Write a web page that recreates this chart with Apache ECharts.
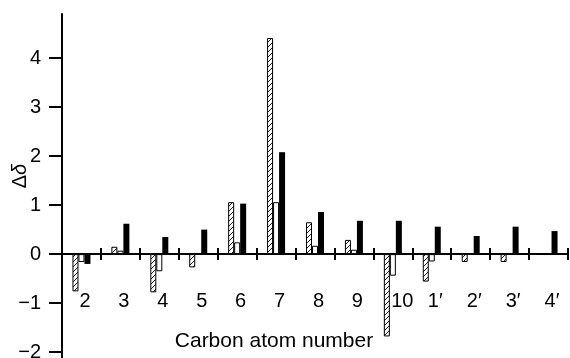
<!DOCTYPE html>
<html>
<head>
<meta charset="utf-8">
<script src="https://cdn.jsdelivr.net/npm/echarts@6/dist/echarts.min.js"></script>
<style>
  html, body {margin: 0; padding: 0; background: #fff;}
  #chart {width: 570px; height: 358px;}
</style>
</head>
<body>
<div id="chart"></div>
<script>
const atoms = ['2', '3', '4', '5', '6', '7', '8', '9', '10', '1\u2032', '2\u2032', '3\u2032', '4\u2032'];
const hatchedVals = [-0.76, 0.15, -0.78, -0.27, 1.06, 4.41, 0.65, 0.29, -1.68, -0.56, -0.16, -0.16, 0];
const whiteVals = [-0.16, 0.07, -0.35, 0, 0.24, 1.06, 0.17, 0.09, -0.44, -0.15, 0, 0, 0];
const blackVals = [-0.2, 0.62, 0.35, 0.5, 1.03, 2.08, 0.86, 0.68, 0.68, 0.56, 0.37, 0.56, 0.47];
const yTicks = [-2, -1, 0, 1, 2, 3, 4];

const font = 'Liberation Sans';
const yMin = -2.12, yMax = 4.9;
const gridTop = 14, gridBottom = 0, chartH = 358;
// lift the category axis from the grid bottom up to y = 0
const plotH = chartH - gridTop - gridBottom;
const zeroOffset = -plotH * (0 - yMin) / (yMax - yMin);

// small tile with a "/" stroke, repeated as the hatch fill
function hatchTile(size) {
  const c = document.createElement('canvas');
  c.width = size;
  c.height = size;
  const ctx = c.getContext('2d');
  ctx.fillStyle = '#fff';
  ctx.fillRect(0, 0, size, size);
  ctx.fillStyle = '#222';
  for (let i = 0; i < size; i++) ctx.fillRect(i, size - 1 - i, 1, 1);
  return c;
}

const chart = echarts.init(document.getElementById('chart'));

const baseBar = {
  type: 'bar',
  barWidth: 6,
  barGap: '0%',
  xAxisIndex: 0
};

const tickStyle = {color: '#000', width: 2};

// "10" sits a bit further right, clear of its long bar
const atomLabels = atoms.map(a => a === '10' ? {value: a, textStyle: {padding: [0, 0, 0, 19]}} : a);

chart.setOption({
  animation: false,
  grid: {left: 62, right: 2, top: gridTop, bottom: gridBottom, outerBoundsMode: 'none', containLabel: false},
  xAxis: [
    {
      type: 'category',
      data: atomLabels,
      offset: zeroOffset,
      axisLine: {onZero: false, lineStyle: {color: '#000', width: 2}},
      axisTick: {show: true, interval: 0, length: 6, lineStyle: tickStyle},
      axisLabel: {interval: 0, margin: 37, color: '#000', fontSize: 20, fontFamily: font, padding: [0, 0, 0, 7]},
      name: 'Carbon atom number',
      nameLocation: 'middle',
      nameGap: 77,
      nameMoveOverlap: false,
      nameTextStyle: {color: '#000', fontSize: 21, fontFamily: font, padding: [0, 82, 0, 0]}
    },
    {
      type: 'category',
      data: atoms,
      position: 'bottom',
      offset: zeroOffset,
      axisLine: {show: false, onZero: false},
      axisTick: {show: true, inside: true, interval: 0, length: 6, lineStyle: tickStyle},
      axisLabel: {show: false}
    }
  ],
  yAxis: {
    type: 'value',
    min: yMin,
    max: yMax,
    splitLine: {show: false},
    axisLine: {show: true, onZero: false, lineStyle: {color: '#000', width: 2}},
    axisTick: {show: true, length: 13, customValues: yTicks, lineStyle: tickStyle},
    axisLabel: {
      customValues: yTicks,
      margin: 21,
      color: '#000',
      fontSize: 20,
      fontFamily: font,
      formatter: v => String(v).replace('-', '\u2212')
    },
    name: '{a|\u0394}{b|\u03b4}',
    nameLocation: 'middle',
    nameGap: 32,
    nameMoveOverlap: false,
    nameTextStyle: {
      padding: [0, 0, 0, 20],
      rich: {
        a: {color: '#000', fontSize: 20, fontFamily: font},
        b: {color: '#000', fontSize: 20, fontFamily: font, fontStyle: 'italic'}
      }
    }
  },
  series: [
    {
      ...baseBar,
      name: 'hatched',
      data: hatchedVals,
      itemStyle: {
        color: {image: hatchTile(5), repeat: 'repeat'},
        borderColor: '#000',
        borderWidth: 1
      }
    },
    {
      ...baseBar,
      name: 'white',
      data: whiteVals,
      itemStyle: {color: '#fff', borderColor: '#000', borderWidth: 1}
    },
    {
      ...baseBar,
      name: 'black',
      data: blackVals,
      itemStyle: {color: '#000'}
    }
  ]
});
</script>
</body>
</html>
